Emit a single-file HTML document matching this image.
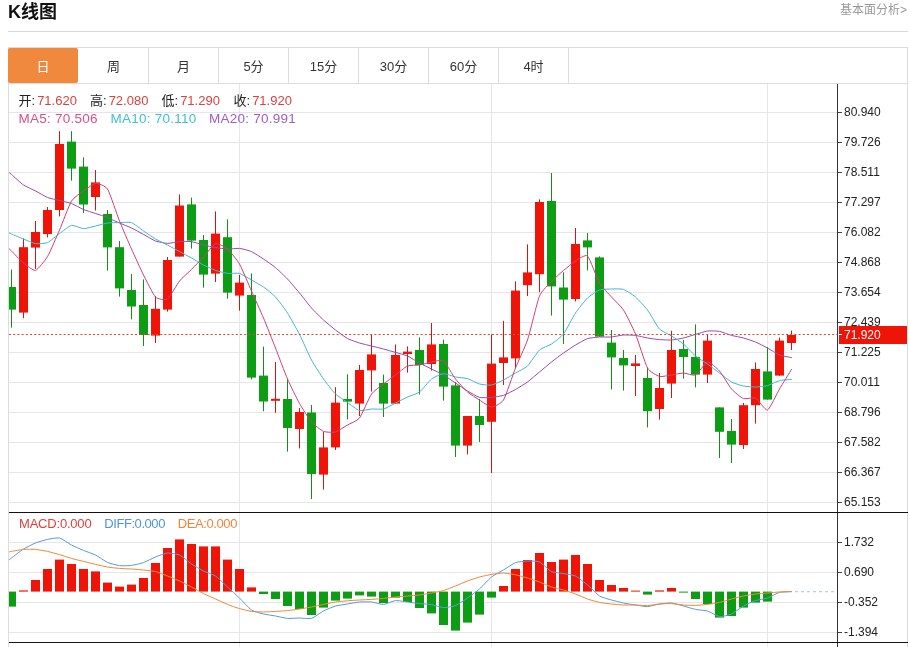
<!DOCTYPE html>
<html lang="zh-CN"><head><meta charset="utf-8"><title>K线图</title>
<style>
html,body{margin:0;padding:0;background:#fff;}
body{width:910px;height:647px;overflow:hidden;position:relative;font-family:"Liberation Sans","Noto Sans CJK SC",sans-serif;color:#222;}
.title{position:absolute;left:8px;top:0;height:24px;line-height:24px;font-size:18px;letter-spacing:0;font-weight:bold;color:#111;}
.more{position:absolute;right:3px;top:1px;height:18px;line-height:18px;font-size:12px;color:#999;}
.hr{position:absolute;left:8px;top:31px;width:900px;height:1px;background:#d8d9de;}
.box{position:absolute;left:8px;top:47px;width:898px;height:700px;border:1px solid #dcdcdc;}
.tabs{position:absolute;left:0;top:0;width:898px;height:35px;border-bottom:1px solid #dcdcdc;}
.tab{position:absolute;top:0;width:69px;height:35px;line-height:38px;text-align:center;font-size:13px;color:#333;border-right:1px solid #dcdcdc;}
.tab.on{background:#f0883e;color:#fff;border-radius:2px;border-right:0;width:70px;left:-1px;}
svg{position:absolute;left:0;top:0;}
.ax{font-family:"Liberation Sans","Noto Sans CJK SC",sans-serif;font-size:12px;fill:#222;}
.info{position:absolute;font-size:13px;white-space:nowrap;line-height:16px;}
.info span{position:absolute;top:0;white-space:nowrap;}
.r{color:#e0403c;margin-left:2px;}
.l2{font-size:13.5px;letter-spacing:0.25px;}
</style></head><body>
<div class="title">K线图</div>
<div class="more">基本面分析&gt;</div>
<div class="hr"></div>
<div class="box"><div class="tabs">
<div class="tab on">日</div>
<div class="tab" style="left:70px">周</div>
<div class="tab" style="left:140px">月</div>
<div class="tab" style="left:210px">5分</div>
<div class="tab" style="left:280px">15分</div>
<div class="tab" style="left:350px">30分</div>
<div class="tab" style="left:420px">60分</div>
<div class="tab" style="left:490px">4时</div>
</div></div>
<svg width="910" height="647" viewBox="0 0 910 647">
<defs><clipPath id="cp"><rect x="9" y="84" width="828" height="563"/></clipPath></defs>
<rect x="9" y="112" width="829" height="1" fill="#e6e6e9"/>
<rect x="9" y="142" width="829" height="1" fill="#e6e6e9"/>
<rect x="9" y="172" width="829" height="1" fill="#e6e6e9"/>
<rect x="9" y="202" width="829" height="1" fill="#e6e6e9"/>
<rect x="9" y="232" width="829" height="1" fill="#e6e6e9"/>
<rect x="9" y="262" width="829" height="1" fill="#e6e6e9"/>
<rect x="9" y="292" width="829" height="1" fill="#e6e6e9"/>
<rect x="9" y="322" width="829" height="1" fill="#e6e6e9"/>
<rect x="9" y="352" width="829" height="1" fill="#e6e6e9"/>
<rect x="9" y="382" width="829" height="1" fill="#e6e6e9"/>
<rect x="9" y="412" width="829" height="1" fill="#e6e6e9"/>
<rect x="9" y="442" width="829" height="1" fill="#e6e6e9"/>
<rect x="9" y="472" width="829" height="1" fill="#e6e6e9"/>
<rect x="9" y="502" width="829" height="1" fill="#e6e6e9"/>
<rect x="9" y="542" width="829" height="1" fill="#e6e6e9"/>
<rect x="9" y="572" width="829" height="1" fill="#e6e6e9"/>
<rect x="9" y="602" width="829" height="1" fill="#e6e6e9"/>
<rect x="9" y="632" width="829" height="1" fill="#e6e6e9"/>
<rect x="239" y="84" width="1" height="563" fill="#e6e6e9"/>
<rect x="491" y="84" width="1" height="563" fill="#e6e6e9"/>
<rect x="767" y="84" width="1" height="563" fill="#e6e6e9"/>
<g clip-path="url(#cp)">
<rect x="11.0" y="269.6" width="1" height="58.0" fill="#178a1c"/>
<rect x="7.0" y="287.0" width="9" height="22.6" fill="#0c9d14"/>
<rect x="23.0" y="238.4" width="1" height="79.8" fill="#c81a14"/>
<rect x="19.0" y="247.2" width="9" height="65.4" fill="#ee1408"/>
<rect x="35.0" y="221.0" width="1" height="48.0" fill="#c81a14"/>
<rect x="31.0" y="232.0" width="9" height="15.6" fill="#ee1408"/>
<rect x="47.0" y="207.0" width="1" height="30.4" fill="#c81a14"/>
<rect x="43.0" y="210.0" width="9" height="24.0" fill="#ee1408"/>
<rect x="59.0" y="131.2" width="1" height="85.2" fill="#c81a14"/>
<rect x="55.0" y="144.0" width="9" height="66.0" fill="#ee1408"/>
<rect x="71.0" y="131.2" width="1" height="49.4" fill="#178a1c"/>
<rect x="67.0" y="141.6" width="9" height="27.0" fill="#0c9d14"/>
<rect x="83.0" y="157.4" width="1" height="55.6" fill="#178a1c"/>
<rect x="79.0" y="166.6" width="9" height="37.9" fill="#0c9d14"/>
<rect x="95.0" y="170.0" width="1" height="40.5" fill="#c81a14"/>
<rect x="91.0" y="182.4" width="9" height="14.6" fill="#ee1408"/>
<rect x="107.0" y="210.0" width="1" height="60.6" fill="#178a1c"/>
<rect x="103.0" y="214.0" width="9" height="33.4" fill="#0c9d14"/>
<rect x="119.0" y="241.0" width="1" height="55.6" fill="#178a1c"/>
<rect x="115.0" y="247.2" width="9" height="41.2" fill="#0c9d14"/>
<rect x="131.0" y="274.0" width="1" height="45.4" fill="#178a1c"/>
<rect x="127.0" y="290.0" width="9" height="16.5" fill="#0c9d14"/>
<rect x="143.0" y="279.4" width="1" height="66.6" fill="#178a1c"/>
<rect x="139.0" y="305.0" width="9" height="30.0" fill="#0c9d14"/>
<rect x="155.0" y="296.0" width="1" height="47.0" fill="#c81a14"/>
<rect x="151.0" y="308.8" width="9" height="26.8" fill="#ee1408"/>
<rect x="167.0" y="257.0" width="1" height="54.6" fill="#c81a14"/>
<rect x="163.0" y="260.0" width="9" height="49.6" fill="#ee1408"/>
<rect x="179.0" y="194.4" width="1" height="62.2" fill="#c81a14"/>
<rect x="175.0" y="205.5" width="9" height="51.1" fill="#ee1408"/>
<rect x="191.0" y="197.6" width="1" height="51.0" fill="#178a1c"/>
<rect x="187.0" y="204.4" width="9" height="36.2" fill="#0c9d14"/>
<rect x="203.0" y="235.0" width="1" height="52.6" fill="#178a1c"/>
<rect x="199.0" y="240.0" width="9" height="34.6" fill="#0c9d14"/>
<rect x="215.0" y="211.4" width="1" height="70.6" fill="#c81a14"/>
<rect x="211.0" y="233.6" width="9" height="40.0" fill="#ee1408"/>
<rect x="227.0" y="219.4" width="1" height="79.2" fill="#178a1c"/>
<rect x="223.0" y="237.2" width="9" height="55.4" fill="#0c9d14"/>
<rect x="239.0" y="275.0" width="1" height="35.6" fill="#c81a14"/>
<rect x="235.0" y="282.6" width="9" height="13.0" fill="#ee1408"/>
<rect x="251.0" y="273.4" width="1" height="106.0" fill="#178a1c"/>
<rect x="247.0" y="295.0" width="9" height="82.6" fill="#0c9d14"/>
<rect x="263.0" y="346.6" width="1" height="64.6" fill="#178a1c"/>
<rect x="259.0" y="375.6" width="9" height="25.9" fill="#0c9d14"/>
<rect x="275.0" y="362.0" width="1" height="50.8" fill="#c81a14"/>
<rect x="271.0" y="398.8" width="9" height="2.0" fill="#ee1408"/>
<rect x="287.0" y="379.0" width="1" height="72.6" fill="#178a1c"/>
<rect x="283.0" y="399.0" width="9" height="29.0" fill="#0c9d14"/>
<rect x="299.0" y="408.0" width="1" height="40.4" fill="#c81a14"/>
<rect x="295.0" y="412.0" width="9" height="17.0" fill="#ee1408"/>
<rect x="311.0" y="405.0" width="1" height="94.0" fill="#178a1c"/>
<rect x="307.0" y="412.5" width="9" height="61.5" fill="#0c9d14"/>
<rect x="323.0" y="432.0" width="1" height="57.6" fill="#c81a14"/>
<rect x="319.0" y="447.4" width="9" height="27.2" fill="#ee1408"/>
<rect x="335.0" y="387.2" width="1" height="62.8" fill="#c81a14"/>
<rect x="331.0" y="402.6" width="9" height="44.8" fill="#ee1408"/>
<rect x="347.0" y="374.4" width="1" height="45.0" fill="#178a1c"/>
<rect x="343.0" y="399.0" width="9" height="2.6" fill="#0c9d14"/>
<rect x="359.0" y="365.0" width="1" height="51.0" fill="#c81a14"/>
<rect x="355.0" y="370.0" width="9" height="33.6" fill="#ee1408"/>
<rect x="371.0" y="335.0" width="1" height="56.6" fill="#c81a14"/>
<rect x="367.0" y="354.4" width="9" height="16.0" fill="#ee1408"/>
<rect x="383.0" y="374.6" width="1" height="42.4" fill="#178a1c"/>
<rect x="379.0" y="383.0" width="9" height="20.6" fill="#0c9d14"/>
<rect x="395.0" y="344.4" width="1" height="59.2" fill="#c81a14"/>
<rect x="391.0" y="355.0" width="9" height="48.6" fill="#ee1408"/>
<rect x="407.0" y="346.4" width="1" height="26.2" fill="#c81a14"/>
<rect x="403.0" y="351.6" width="9" height="2.4" fill="#ee1408"/>
<rect x="419.0" y="337.4" width="1" height="57.0" fill="#178a1c"/>
<rect x="415.0" y="350.0" width="9" height="15.0" fill="#0c9d14"/>
<rect x="431.0" y="323.0" width="1" height="47.6" fill="#c81a14"/>
<rect x="427.0" y="344.4" width="9" height="19.6" fill="#ee1408"/>
<rect x="443.0" y="339.6" width="1" height="61.0" fill="#178a1c"/>
<rect x="439.0" y="344.0" width="9" height="42.6" fill="#0c9d14"/>
<rect x="455.0" y="382.0" width="1" height="75.0" fill="#178a1c"/>
<rect x="451.0" y="385.4" width="9" height="60.2" fill="#0c9d14"/>
<rect x="467.0" y="416.0" width="1" height="38.4" fill="#c81a14"/>
<rect x="463.0" y="416.0" width="9" height="29.6" fill="#ee1408"/>
<rect x="479.0" y="399.0" width="1" height="43.0" fill="#178a1c"/>
<rect x="475.0" y="416.0" width="9" height="9.0" fill="#0c9d14"/>
<rect x="491.0" y="334.4" width="1" height="138.6" fill="#c81a14"/>
<rect x="487.0" y="363.6" width="9" height="58.2" fill="#ee1408"/>
<rect x="503.0" y="320.8" width="1" height="64.2" fill="#c81a14"/>
<rect x="499.0" y="357.4" width="9" height="5.6" fill="#ee1408"/>
<rect x="515.0" y="281.3" width="1" height="86.7" fill="#c81a14"/>
<rect x="511.0" y="290.6" width="9" height="67.8" fill="#ee1408"/>
<rect x="527.0" y="244.4" width="1" height="51.6" fill="#c81a14"/>
<rect x="523.0" y="272.4" width="9" height="12.8" fill="#ee1408"/>
<rect x="539.0" y="199.4" width="1" height="92.8" fill="#c81a14"/>
<rect x="535.0" y="202.0" width="9" height="72.2" fill="#ee1408"/>
<rect x="551.0" y="173.0" width="1" height="142.6" fill="#178a1c"/>
<rect x="547.0" y="201.0" width="9" height="85.4" fill="#0c9d14"/>
<rect x="563.0" y="272.2" width="1" height="71.8" fill="#178a1c"/>
<rect x="559.0" y="287.5" width="9" height="12.1" fill="#0c9d14"/>
<rect x="575.0" y="228.0" width="1" height="73.4" fill="#c81a14"/>
<rect x="571.0" y="244.0" width="9" height="55.0" fill="#ee1408"/>
<rect x="587.0" y="233.0" width="1" height="37.4" fill="#178a1c"/>
<rect x="583.0" y="240.4" width="9" height="7.0" fill="#0c9d14"/>
<rect x="599.0" y="256.4" width="1" height="80.2" fill="#178a1c"/>
<rect x="595.0" y="257.4" width="9" height="79.2" fill="#0c9d14"/>
<rect x="611.0" y="330.0" width="1" height="59.4" fill="#178a1c"/>
<rect x="607.0" y="342.6" width="9" height="14.8" fill="#0c9d14"/>
<rect x="623.0" y="350.0" width="1" height="40.6" fill="#178a1c"/>
<rect x="619.0" y="358.0" width="9" height="7.4" fill="#0c9d14"/>
<rect x="635.0" y="355.0" width="1" height="41.0" fill="#c81a14"/>
<rect x="631.0" y="363.4" width="9" height="2.6" fill="#ee1408"/>
<rect x="647.0" y="367.5" width="1" height="59.9" fill="#178a1c"/>
<rect x="643.0" y="378.0" width="9" height="33.2" fill="#0c9d14"/>
<rect x="659.0" y="373.0" width="1" height="46.6" fill="#c81a14"/>
<rect x="655.0" y="388.0" width="9" height="21.0" fill="#ee1408"/>
<rect x="671.0" y="330.8" width="1" height="67.2" fill="#c81a14"/>
<rect x="667.0" y="350.0" width="9" height="33.6" fill="#ee1408"/>
<rect x="683.0" y="340.0" width="1" height="38.6" fill="#178a1c"/>
<rect x="679.0" y="349.0" width="9" height="8.0" fill="#0c9d14"/>
<rect x="695.0" y="324.4" width="1" height="63.0" fill="#178a1c"/>
<rect x="691.0" y="357.0" width="9" height="17.6" fill="#0c9d14"/>
<rect x="707.0" y="334.4" width="1" height="48.6" fill="#c81a14"/>
<rect x="703.0" y="340.6" width="9" height="34.0" fill="#ee1408"/>
<rect x="719.0" y="407.4" width="1" height="50.6" fill="#178a1c"/>
<rect x="715.0" y="407.4" width="9" height="24.4" fill="#0c9d14"/>
<rect x="731.0" y="419.0" width="1" height="44.0" fill="#178a1c"/>
<rect x="727.0" y="431.0" width="9" height="13.6" fill="#0c9d14"/>
<rect x="743.0" y="403.0" width="1" height="46.0" fill="#c81a14"/>
<rect x="739.0" y="405.2" width="9" height="39.8" fill="#ee1408"/>
<rect x="755.0" y="362.4" width="1" height="61.2" fill="#c81a14"/>
<rect x="751.0" y="369.0" width="9" height="36.2" fill="#ee1408"/>
<rect x="767.0" y="347.0" width="1" height="52.6" fill="#178a1c"/>
<rect x="763.0" y="371.4" width="9" height="28.2" fill="#0c9d14"/>
<rect x="779.0" y="337.6" width="1" height="38.0" fill="#c81a14"/>
<rect x="775.0" y="340.6" width="9" height="35.0" fill="#ee1408"/>
<rect x="791.0" y="330.6" width="1" height="19.4" fill="#c81a14"/>
<rect x="787.0" y="335.0" width="9" height="8.0" fill="#ee1408"/>
<rect x="7.0" y="591.6" width="9" height="15.0" fill="#0c9d14"/>
<rect x="19.0" y="590.4" width="9" height="1.2" fill="#ee1408"/>
<rect x="31.0" y="580.0" width="9" height="11.6" fill="#ee1408"/>
<rect x="43.0" y="569.0" width="9" height="22.6" fill="#ee1408"/>
<rect x="55.0" y="559.6" width="9" height="32.0" fill="#ee1408"/>
<rect x="67.0" y="564.0" width="9" height="27.6" fill="#ee1408"/>
<rect x="79.0" y="569.0" width="9" height="22.6" fill="#ee1408"/>
<rect x="91.0" y="571.4" width="9" height="20.2" fill="#ee1408"/>
<rect x="103.0" y="582.6" width="9" height="9.0" fill="#ee1408"/>
<rect x="115.0" y="586.6" width="9" height="5.0" fill="#ee1408"/>
<rect x="127.0" y="584.6" width="9" height="7.0" fill="#ee1408"/>
<rect x="139.0" y="578.0" width="9" height="13.6" fill="#ee1408"/>
<rect x="151.0" y="563.0" width="9" height="28.6" fill="#ee1408"/>
<rect x="163.0" y="548.0" width="9" height="43.6" fill="#ee1408"/>
<rect x="175.0" y="539.4" width="9" height="52.2" fill="#ee1408"/>
<rect x="187.0" y="544.0" width="9" height="47.6" fill="#ee1408"/>
<rect x="199.0" y="546.4" width="9" height="45.2" fill="#ee1408"/>
<rect x="211.0" y="546.4" width="9" height="45.2" fill="#ee1408"/>
<rect x="223.0" y="559.6" width="9" height="32.0" fill="#ee1408"/>
<rect x="235.0" y="569.0" width="9" height="22.6" fill="#ee1408"/>
<rect x="247.0" y="587.4" width="9" height="4.2" fill="#ee1408"/>
<rect x="259.0" y="591.6" width="9" height="2.4" fill="#0c9d14"/>
<rect x="271.0" y="591.6" width="9" height="7.4" fill="#0c9d14"/>
<rect x="283.0" y="591.6" width="9" height="14.4" fill="#0c9d14"/>
<rect x="295.0" y="591.6" width="9" height="17.4" fill="#0c9d14"/>
<rect x="307.0" y="591.6" width="9" height="23.4" fill="#0c9d14"/>
<rect x="319.0" y="591.6" width="9" height="16.0" fill="#0c9d14"/>
<rect x="331.0" y="591.6" width="9" height="9.0" fill="#0c9d14"/>
<rect x="343.0" y="591.6" width="9" height="7.0" fill="#0c9d14"/>
<rect x="355.0" y="591.6" width="9" height="3.8" fill="#0c9d14"/>
<rect x="367.0" y="591.6" width="9" height="5.0" fill="#0c9d14"/>
<rect x="379.0" y="591.6" width="9" height="11.4" fill="#0c9d14"/>
<rect x="391.0" y="591.6" width="9" height="6.0" fill="#0c9d14"/>
<rect x="403.0" y="591.6" width="9" height="10.4" fill="#0c9d14"/>
<rect x="415.0" y="591.6" width="9" height="16.4" fill="#0c9d14"/>
<rect x="427.0" y="591.6" width="9" height="21.8" fill="#0c9d14"/>
<rect x="439.0" y="591.6" width="9" height="33.4" fill="#0c9d14"/>
<rect x="451.0" y="591.6" width="9" height="39.0" fill="#0c9d14"/>
<rect x="463.0" y="591.6" width="9" height="31.0" fill="#0c9d14"/>
<rect x="475.0" y="591.6" width="9" height="23.0" fill="#0c9d14"/>
<rect x="487.0" y="591.6" width="9" height="6.0" fill="#0c9d14"/>
<rect x="499.0" y="586.0" width="9" height="5.6" fill="#ee1408"/>
<rect x="511.0" y="569.0" width="9" height="22.6" fill="#ee1408"/>
<rect x="523.0" y="560.0" width="9" height="31.6" fill="#ee1408"/>
<rect x="535.0" y="553.0" width="9" height="38.6" fill="#ee1408"/>
<rect x="547.0" y="562.0" width="9" height="29.6" fill="#ee1408"/>
<rect x="559.0" y="559.6" width="9" height="32.0" fill="#ee1408"/>
<rect x="571.0" y="555.0" width="9" height="36.6" fill="#ee1408"/>
<rect x="583.0" y="564.0" width="9" height="27.6" fill="#ee1408"/>
<rect x="595.0" y="580.0" width="9" height="11.6" fill="#ee1408"/>
<rect x="607.0" y="585.0" width="9" height="6.6" fill="#ee1408"/>
<rect x="619.0" y="588.0" width="9" height="3.6" fill="#ee1408"/>
<rect x="631.0" y="590.6" width="9" height="1.0" fill="#ee1408"/>
<rect x="643.0" y="591.6" width="9" height="3.0" fill="#0c9d14"/>
<rect x="655.0" y="590.4" width="9" height="1.2" fill="#ee1408"/>
<rect x="667.0" y="588.0" width="9" height="3.6" fill="#ee1408"/>
<rect x="679.0" y="591.6" width="9" height="1.0" fill="#0c9d14"/>
<rect x="691.0" y="591.6" width="9" height="7.4" fill="#0c9d14"/>
<rect x="703.0" y="591.6" width="9" height="12.4" fill="#0c9d14"/>
<rect x="715.0" y="591.6" width="9" height="26.0" fill="#0c9d14"/>
<rect x="727.0" y="591.6" width="9" height="24.4" fill="#0c9d14"/>
<rect x="739.0" y="591.6" width="9" height="16.0" fill="#0c9d14"/>
<rect x="751.0" y="591.6" width="9" height="11.0" fill="#0c9d14"/>
<rect x="763.0" y="591.6" width="9" height="10.0" fill="#0c9d14"/>
<path d="M9.0,172.4C9.2,172.6 10.2,173.4 11.5,174.5C12.8,175.6 21.3,183.5 23.5,185.0C25.7,186.5 33.3,189.9 35.5,191.0C37.7,192.1 45.3,196.6 47.5,197.5C49.7,198.4 57.3,200.0 59.5,200.5C61.7,201.0 69.3,202.7 71.5,203.5C73.7,204.3 81.3,208.6 83.5,209.5C85.7,210.4 93.3,212.8 95.5,213.5C97.7,214.2 105.3,216.7 107.5,217.6C109.7,218.5 117.3,222.1 119.5,223.0C121.7,223.9 129.3,227.0 131.5,228.0C133.7,229.0 141.3,233.2 143.5,234.4C145.7,235.6 153.3,240.2 155.5,241.0C157.7,241.8 165.3,243.3 167.5,243.4C169.7,243.5 177.3,241.8 179.5,241.6C181.7,241.4 189.3,241.3 191.5,241.6C193.7,241.9 201.3,244.5 203.5,245.0C205.7,245.5 213.3,247.2 215.5,247.6C217.7,248.0 225.3,248.9 227.5,249.0C229.7,249.1 237.3,248.2 239.5,248.4C241.7,248.6 249.3,250.6 251.5,251.6C253.7,252.6 261.3,257.6 263.5,259.0C265.7,260.4 273.3,265.8 275.5,267.6C277.7,269.4 285.3,276.7 287.5,279.0C289.7,281.3 297.3,290.4 299.5,293.0C301.7,295.6 309.3,305.6 311.5,308.0C313.7,310.4 321.3,318.0 323.5,320.0C325.7,322.0 333.3,328.3 335.5,330.0C337.7,331.7 345.3,337.3 347.5,338.5C349.7,339.7 357.3,342.3 359.5,343.0C361.7,343.7 369.3,345.5 371.5,346.0C373.7,346.5 381.3,348.4 383.5,349.0C385.7,349.6 393.3,351.8 395.5,352.4C397.7,353.0 405.3,355.0 407.5,356.0C409.7,357.0 417.3,361.8 419.5,363.0C421.7,364.2 429.3,367.9 431.5,369.0C433.7,370.1 441.3,373.7 443.5,375.0C445.7,376.3 453.3,381.6 455.5,383.0C457.7,384.4 465.3,389.7 467.5,391.0C469.7,392.3 477.3,396.8 479.5,397.4C481.7,398.0 489.3,397.6 491.5,397.4C493.7,397.2 501.3,396.0 503.5,395.3C505.7,394.6 513.3,390.7 515.5,389.5C517.7,388.3 525.3,383.6 527.5,382.0C529.7,380.4 537.3,373.8 539.5,372.0C541.7,370.2 549.3,363.7 551.5,362.0C553.7,360.3 561.3,354.5 563.5,353.0C565.7,351.5 573.3,346.3 575.5,345.0C577.7,343.7 585.3,339.3 587.5,338.6C589.7,337.9 597.3,337.1 599.5,337.0C601.7,336.9 609.3,337.2 611.5,337.0C613.7,336.8 621.3,335.1 623.5,335.0C625.7,334.9 633.3,335.1 635.5,335.4C637.7,335.7 645.3,337.6 647.5,338.0C649.7,338.4 657.3,339.4 659.5,339.6C661.7,339.8 669.3,340.1 671.5,340.0C673.7,339.9 681.3,338.5 683.5,338.0C685.7,337.5 693.3,335.0 695.5,334.4C697.7,333.8 705.3,331.3 707.5,331.0C709.7,330.7 717.3,331.0 719.5,331.4C721.7,331.8 729.3,334.8 731.5,335.4C733.7,336.0 741.3,337.4 743.5,338.0C745.7,338.6 753.3,341.1 755.5,342.0C757.7,342.9 765.3,346.8 767.5,348.0C769.7,349.2 777.3,354.1 779.5,355.0C781.7,355.9 790.4,357.4 791.5,357.6" fill="none" stroke="#9a4cae" stroke-width="1.0" stroke-linejoin="round" stroke-linecap="round"/>
<path d="M9.0,232.6C9.2,232.7 10.2,233.4 11.5,234.0C12.8,234.6 21.3,238.1 23.5,239.0C25.7,239.9 33.3,243.3 35.5,243.6C37.7,243.9 45.3,243.5 47.5,242.6C49.7,241.7 57.3,235.1 59.5,233.6C61.7,232.1 69.3,225.8 71.5,225.4C73.7,225.0 81.3,228.5 83.5,228.6C85.7,228.7 93.3,226.5 95.5,226.0C97.7,225.5 105.3,223.3 107.5,223.0C109.7,222.7 117.3,222.6 119.5,222.6C121.7,222.6 129.3,221.8 131.5,222.6C133.7,223.4 141.3,229.5 143.5,231.0C145.7,232.5 153.3,237.7 155.5,239.0C157.7,240.3 165.3,243.9 167.5,245.0C169.7,246.1 177.3,250.4 179.5,251.6C181.7,252.8 189.3,256.8 191.5,258.0C193.7,259.2 201.3,263.9 203.5,265.0C205.7,266.1 213.3,269.6 215.5,270.4C217.7,271.2 225.3,273.1 227.5,273.4C229.7,273.7 237.3,272.8 239.5,273.4C241.7,274.0 249.3,278.8 251.5,280.0C253.7,281.2 261.3,285.5 263.5,287.0C265.7,288.5 273.3,294.7 275.5,297.0C277.7,299.3 285.3,309.6 287.5,313.0C289.7,316.4 297.3,330.2 299.5,334.4C301.7,338.6 309.3,356.0 311.5,360.0C313.7,364.0 321.3,375.9 323.5,379.0C325.7,382.1 333.3,391.9 335.5,394.0C337.7,396.1 345.3,401.0 347.5,402.5C349.7,404.0 357.3,410.0 359.5,410.6C361.7,411.2 369.3,409.1 371.5,409.0C373.7,408.9 381.3,409.5 383.5,409.0C385.7,408.5 393.3,404.1 395.5,403.0C397.7,401.9 405.3,398.0 407.5,397.0C409.7,396.0 417.3,393.6 419.5,392.0C421.7,390.4 429.3,380.7 431.5,379.0C433.7,377.3 441.3,373.8 443.5,373.6C445.7,373.4 453.3,376.6 455.5,377.0C457.7,377.4 465.3,378.0 467.5,378.6C469.7,379.2 477.3,383.4 479.5,384.0C481.7,384.6 489.3,385.4 491.5,385.0C493.7,384.6 501.3,381.1 503.5,380.0C505.7,378.9 513.3,374.3 515.5,373.0C517.7,371.7 525.3,368.1 527.5,366.0C529.7,363.9 537.3,352.0 539.5,350.0C541.7,348.0 549.3,345.4 551.5,344.0C553.7,342.6 561.3,336.8 563.5,334.0C565.7,331.2 573.3,316.2 575.5,313.0C577.7,309.8 585.3,300.1 587.5,298.0C589.7,295.9 597.3,290.8 599.5,290.0C601.7,289.2 609.3,289.1 611.5,289.0C613.7,288.9 621.3,288.7 623.5,289.4C625.7,290.1 633.3,295.1 635.5,297.0C637.7,298.9 645.3,307.1 647.5,310.0C649.7,312.9 657.3,326.7 659.5,329.0C661.7,331.3 669.3,334.6 671.5,336.0C673.7,337.4 681.3,342.2 683.5,344.0C685.7,345.8 693.3,354.2 695.5,356.0C697.7,357.8 705.3,362.5 707.5,364.0C709.7,365.5 717.3,371.4 719.5,373.0C721.7,374.6 729.3,380.8 731.5,382.0C733.7,383.2 741.3,385.6 743.5,386.0C745.7,386.4 753.3,387.0 755.5,387.0C757.7,387.0 765.3,386.2 767.5,385.6C769.7,385.0 777.3,381.2 779.5,380.6C781.7,380.0 790.4,379.5 791.5,379.4" fill="none" stroke="#43b9cc" stroke-width="1.0" stroke-linejoin="round" stroke-linecap="round"/>
<path d="M9.0,248.6C9.2,248.8 10.2,249.7 11.5,251.0C12.8,252.3 21.3,261.3 23.5,263.0C25.7,264.7 33.3,271.0 35.5,270.4C37.7,269.8 45.3,260.2 47.5,256.6C49.7,253.0 57.3,235.0 59.5,230.0C61.7,225.0 69.3,204.5 71.5,201.0C73.7,197.5 81.3,192.6 83.5,191.0C85.7,189.4 93.3,183.6 95.5,183.4C97.7,183.2 105.3,185.6 107.5,189.0C109.7,192.4 117.3,215.6 119.5,221.0C121.7,226.4 129.3,244.1 131.5,249.0C133.7,253.9 141.3,270.7 143.5,275.0C145.7,279.3 153.3,294.8 155.5,297.0C157.7,299.2 165.3,300.4 167.5,299.0C169.7,297.6 177.3,283.7 179.5,281.0C181.7,278.3 189.3,271.6 191.5,269.4C193.7,267.2 201.3,259.3 203.5,257.0C205.7,254.7 213.3,244.3 215.5,243.6C217.7,242.9 225.3,247.2 227.5,249.0C229.7,250.8 237.3,260.2 239.5,264.0C241.7,267.8 249.3,286.1 251.5,291.0C253.7,295.9 261.3,312.9 263.5,318.0C265.7,323.1 273.3,342.5 275.5,348.0C277.7,353.5 285.3,374.0 287.5,379.0C289.7,384.0 297.3,399.6 299.5,403.5C301.7,407.4 309.3,419.5 311.5,422.0C313.7,424.5 321.3,430.5 323.5,431.4C325.7,432.3 333.3,432.6 335.5,432.0C337.7,431.4 345.3,426.3 347.5,425.0C349.7,423.7 357.3,420.8 359.5,418.0C361.7,415.2 369.3,397.1 371.5,394.0C373.7,390.9 381.3,385.7 383.5,384.0C385.7,382.3 393.3,376.6 395.5,375.0C397.7,373.4 405.3,366.9 407.5,366.0C409.7,365.1 417.3,365.4 419.5,365.0C421.7,364.6 429.3,362.4 431.5,362.0C433.7,361.6 441.3,359.5 443.5,361.0C445.7,362.5 453.3,376.2 455.5,379.0C457.7,381.8 465.3,390.1 467.5,392.0C469.7,393.9 477.3,398.6 479.5,400.0C481.7,401.4 489.3,407.0 491.5,407.0C493.7,407.0 501.3,403.5 503.5,400.0C505.7,396.5 513.3,373.4 515.5,368.0C517.7,362.6 525.3,346.5 527.5,340.0C529.7,333.5 537.3,301.3 539.5,296.0C541.7,290.7 549.3,283.8 551.5,281.5C553.7,279.2 561.3,272.3 563.5,270.5C565.7,268.7 573.3,262.3 575.5,261.0C577.7,259.7 585.3,254.0 587.5,256.0C589.7,258.0 597.3,279.3 599.5,283.0C601.7,286.7 609.3,294.6 611.5,297.0C613.7,299.4 621.3,306.7 623.5,310.0C625.7,313.3 633.3,328.8 635.5,334.0C637.7,339.2 645.3,364.2 647.5,368.0C649.7,371.8 657.3,375.8 659.5,376.4C661.7,377.0 669.3,375.3 671.5,375.0C673.7,374.7 681.3,373.0 683.5,373.0C685.7,373.0 693.3,376.0 695.5,375.0C697.7,374.0 705.3,362.4 707.5,362.0C709.7,361.6 717.3,368.6 719.5,371.0C721.7,373.4 729.3,386.5 731.5,389.0C733.7,391.5 741.3,397.8 743.5,398.6C745.7,399.4 753.3,397.0 755.5,398.0C757.7,399.0 765.3,410.8 767.5,410.0C769.7,409.2 777.3,392.7 779.5,389.0C781.7,385.3 790.4,371.2 791.5,369.4" fill="none" stroke="#d03f76" stroke-width="1.0" stroke-linejoin="round" stroke-linecap="round"/>
<path d="M9.0,560.0C9.2,559.8 10.2,559.0 11.5,558.0C12.8,557.0 21.3,550.4 23.5,549.0C25.7,547.6 33.3,543.9 35.5,543.0C37.7,542.1 45.3,539.9 47.5,539.4C49.7,538.9 57.3,537.5 59.5,538.0C61.7,538.5 69.3,543.9 71.5,545.0C73.7,546.1 81.3,549.5 83.5,550.4C85.7,551.3 93.3,553.9 95.5,555.0C97.7,556.1 105.3,561.4 107.5,562.4C109.7,563.4 117.3,565.3 119.5,565.6C121.7,565.9 129.3,565.7 131.5,565.4C133.7,565.1 141.3,563.4 143.5,562.6C145.7,561.8 153.3,557.9 155.5,557.0C157.7,556.1 165.3,553.2 167.5,553.0C169.7,552.8 177.3,554.0 179.5,555.0C181.7,556.0 189.3,562.6 191.5,564.0C193.7,565.4 201.3,569.9 203.5,571.0C205.7,572.1 213.3,574.6 215.5,576.0C217.7,577.4 225.3,585.0 227.5,587.0C229.7,589.0 237.3,595.9 239.5,598.0C241.7,600.1 249.3,608.6 251.5,610.0C253.7,611.4 261.3,613.5 263.5,614.0C265.7,614.5 273.3,615.6 275.5,616.0C277.7,616.4 285.3,618.2 287.5,618.4C289.7,618.6 297.3,618.0 299.5,618.0C301.7,618.0 309.3,619.0 311.5,618.4C313.7,617.8 321.3,612.1 323.5,611.0C325.7,609.9 333.3,606.6 335.5,606.0C337.7,605.4 345.3,604.4 347.5,604.0C349.7,603.6 357.3,602.2 359.5,602.0C361.7,601.8 369.3,601.8 371.5,602.0C373.7,602.2 381.3,604.5 383.5,604.4C385.7,604.3 393.3,600.8 395.5,600.6C397.7,600.4 405.3,601.7 407.5,602.0C409.7,602.3 417.3,603.4 419.5,603.6C421.7,603.8 429.3,604.2 431.5,604.6C433.7,605.0 441.3,607.5 443.5,607.6C445.7,607.7 453.3,606.5 455.5,605.6C457.7,604.7 465.3,599.5 467.5,598.0C469.7,596.5 477.3,590.9 479.5,589.0C481.7,587.1 489.3,578.7 491.5,577.0C493.7,575.3 501.3,571.3 503.5,570.0C505.7,568.7 513.3,563.4 515.5,562.6C517.7,561.8 525.3,561.1 527.5,561.0C529.7,560.9 537.3,561.0 539.5,562.0C541.7,563.0 549.3,570.6 551.5,571.6C553.7,572.6 561.3,573.2 563.5,573.6C565.7,574.0 573.3,575.0 575.5,576.0C577.7,577.0 585.3,583.2 587.5,585.0C589.7,586.8 597.3,594.6 599.5,596.0C601.7,597.4 609.3,599.4 611.5,600.0C613.7,600.6 621.3,602.5 623.5,603.0C625.7,603.5 633.3,604.7 635.5,605.0C637.7,605.3 645.3,606.7 647.5,606.6C649.7,606.5 657.3,604.3 659.5,604.0C661.7,603.7 669.3,602.8 671.5,603.0C673.7,603.2 681.3,605.4 683.5,606.0C685.7,606.6 693.3,608.9 695.5,609.4C697.7,609.9 705.3,610.4 707.5,611.0C709.7,611.6 717.3,616.3 719.5,616.6C721.7,616.9 729.3,615.0 731.5,614.0C733.7,613.0 741.3,607.2 743.5,606.0C745.7,604.8 753.3,601.3 755.5,600.6C757.7,599.9 765.3,598.7 767.5,598.0C769.7,597.3 777.3,593.0 779.5,592.4C781.7,591.8 790.4,591.7 791.5,591.6" fill="none" stroke="#5b9ad8" stroke-width="1.0" stroke-linejoin="round" stroke-linecap="round"/>
<path d="M9.0,552.0C9.2,551.9 10.2,551.6 11.5,551.4C12.8,551.2 21.3,549.6 23.5,549.4C25.7,549.2 33.3,549.2 35.5,549.4C37.7,549.6 45.3,550.9 47.5,551.4C49.7,551.9 57.3,554.0 59.5,554.6C61.7,555.2 69.3,557.8 71.5,558.4C73.7,559.0 81.3,560.9 83.5,561.4C85.7,561.9 93.3,563.9 95.5,564.4C97.7,564.9 105.3,566.6 107.5,567.0C109.7,567.4 117.3,568.2 119.5,568.4C121.7,568.6 129.3,568.9 131.5,569.0C133.7,569.1 141.3,569.8 143.5,570.0C145.7,570.2 153.3,571.1 155.5,571.6C157.7,572.1 165.3,575.2 167.5,576.0C169.7,576.8 177.3,580.0 179.5,581.0C181.7,582.0 189.3,585.9 191.5,587.0C193.7,588.1 201.3,592.5 203.5,593.6C205.7,594.7 213.3,598.0 215.5,599.0C217.7,600.0 225.3,603.5 227.5,604.4C229.7,605.3 237.3,608.0 239.5,608.6C241.7,609.2 249.3,611.1 251.5,611.4C253.7,611.7 261.3,612.0 263.5,612.0C265.7,612.0 273.3,611.5 275.5,611.4C277.7,611.3 285.3,610.8 287.5,610.6C289.7,610.4 297.3,609.3 299.5,609.0C301.7,608.7 309.3,607.4 311.5,607.0C313.7,606.6 321.3,604.9 323.5,604.4C325.7,603.9 333.3,602.3 335.5,602.0C337.7,601.7 345.3,601.0 347.5,600.8C349.7,600.6 357.3,600.1 359.5,600.0C361.7,599.9 369.3,599.5 371.5,599.4C373.7,599.3 381.3,598.6 383.5,598.4C385.7,598.2 393.3,597.2 395.5,597.0C397.7,596.8 405.3,596.2 407.5,596.0C409.7,595.8 417.3,595.3 419.5,595.0C421.7,594.7 429.3,593.4 431.5,593.0C433.7,592.6 441.3,591.2 443.5,590.6C445.7,590.0 453.3,586.9 455.5,586.0C457.7,585.1 465.3,581.8 467.5,581.0C469.7,580.2 477.3,577.6 479.5,577.0C481.7,576.4 489.3,574.8 491.5,574.4C493.7,574.0 501.3,573.0 503.5,573.0C505.7,573.0 513.3,574.3 515.5,574.8C517.7,575.2 525.3,577.4 527.5,578.0C529.7,578.6 537.3,581.2 539.5,582.0C541.7,582.8 549.3,586.3 551.5,587.0C553.7,587.7 561.3,589.4 563.5,590.0C565.7,590.6 573.3,593.2 575.5,594.0C577.7,594.8 585.3,598.2 587.5,599.0C589.7,599.8 597.3,601.9 599.5,602.4C601.7,602.9 609.3,603.8 611.5,604.0C613.7,604.2 621.3,604.9 623.5,605.0C625.7,605.1 633.3,604.9 635.5,605.0C637.7,605.1 645.3,605.7 647.5,605.6C649.7,605.5 657.3,604.2 659.5,604.0C661.7,603.8 669.3,603.5 671.5,603.6C673.7,603.7 681.3,604.8 683.5,605.0C685.7,605.2 693.3,605.5 695.5,605.4C697.7,605.3 705.3,604.7 707.5,604.4C709.7,604.1 717.3,602.9 719.5,602.4C721.7,601.9 729.3,599.6 731.5,599.0C733.7,598.4 741.3,596.5 743.5,596.0C745.7,595.5 753.3,594.3 755.5,594.0C757.7,593.7 765.3,593.2 767.5,593.0C769.7,592.8 777.3,592.1 779.5,592.0C781.7,591.9 790.4,591.6 791.5,591.6" fill="none" stroke="#f0883a" stroke-width="1.0" stroke-linejoin="round" stroke-linecap="round"/>
</g>
<line x1="9" y1="334.5" x2="842" y2="334.5" stroke="#e8432e" stroke-width="1.2" stroke-dasharray="2 2.2"/>
<line x1="795" y1="591.6" x2="835" y2="591.6" stroke="#b5d0ea" stroke-width="1.2" stroke-dasharray="3 3"/>
<rect x="837" y="84" width="1" height="563" fill="#333"/>
<rect x="9" y="512" width="899" height="1" fill="#111"/>
<rect x="9" y="642" width="899" height="1" fill="#111"/>
<rect x="838" y="112" width="4" height="1" fill="#444"/>
<text x="844" y="116" class="ax">80.940</text>
<rect x="838" y="142" width="4" height="1" fill="#444"/>
<text x="844" y="146" class="ax">79.726</text>
<rect x="838" y="172" width="4" height="1" fill="#444"/>
<text x="844" y="176" class="ax">78.511</text>
<rect x="838" y="202" width="4" height="1" fill="#444"/>
<text x="844" y="206" class="ax">77.297</text>
<rect x="838" y="232" width="4" height="1" fill="#444"/>
<text x="844" y="236" class="ax">76.082</text>
<rect x="838" y="262" width="4" height="1" fill="#444"/>
<text x="844" y="266" class="ax">74.868</text>
<rect x="838" y="292" width="4" height="1" fill="#444"/>
<text x="844" y="296" class="ax">73.654</text>
<rect x="838" y="322" width="4" height="1" fill="#444"/>
<text x="844" y="326" class="ax">72.439</text>
<rect x="838" y="352" width="4" height="1" fill="#444"/>
<text x="844" y="356" class="ax">71.225</text>
<rect x="838" y="382" width="4" height="1" fill="#444"/>
<text x="844" y="386" class="ax">70.011</text>
<rect x="838" y="412" width="4" height="1" fill="#444"/>
<text x="844" y="416" class="ax">68.796</text>
<rect x="838" y="442" width="4" height="1" fill="#444"/>
<text x="844" y="446" class="ax">67.582</text>
<rect x="838" y="472" width="4" height="1" fill="#444"/>
<text x="844" y="476" class="ax">66.367</text>
<rect x="838" y="502" width="4" height="1" fill="#444"/>
<text x="844" y="506" class="ax">65.153</text>
<rect x="838" y="542" width="4" height="1" fill="#444"/>
<text x="844" y="546" class="ax">1.732</text>
<rect x="838" y="572" width="4" height="1" fill="#444"/>
<text x="844" y="576" class="ax">0.690</text>
<rect x="838" y="602" width="4" height="1" fill="#444"/>
<text x="844" y="606" class="ax">-0.352</text>
<rect x="838" y="632" width="4" height="1" fill="#444"/>
<text x="844" y="636" class="ax">-1.394</text>
<rect x="839" y="326" width="68" height="18" fill="#ee1408"/>
<rect x="838" y="334" width="4" height="1" fill="#fff"/>
<text x="844" y="339" class="ax" fill="#fff" style="fill:#fff">71.920</text>
</svg>
<div class="info" style="left:0;top:92.5px">
<span style="left:18.5px">开:<i class="r" style="font-style:normal">71.620</i></span>
<span style="left:90px">高:<i class="r" style="font-style:normal">72.080</i></span>
<span style="left:161.5px">低:<i class="r" style="font-style:normal">71.290</i></span>
<span style="left:233.5px">收:<i class="r" style="font-style:normal">71.920</i></span>
</div>
<div class="info l2" style="left:0;top:111px">
<span style="left:18.5px;color:#de5087">MA5: 70.506</span>
<span style="left:110.5px;color:#3fc0d6">MA10: 70.110</span>
<span style="left:209px;color:#a35cc6">MA20: 70.991</span>
</div>
<div class="info" style="left:0;top:516px">
<span style="left:19px;color:#e0403c;letter-spacing:-0.2px">MACD:0.000</span>
<span style="left:104.3px;color:#4f95dc;letter-spacing:-0.44px">DIFF:0.000</span>
<span style="left:177.7px;color:#f0853a;letter-spacing:-0.39px">DEA:0.000</span>
</div>
</body></html>
